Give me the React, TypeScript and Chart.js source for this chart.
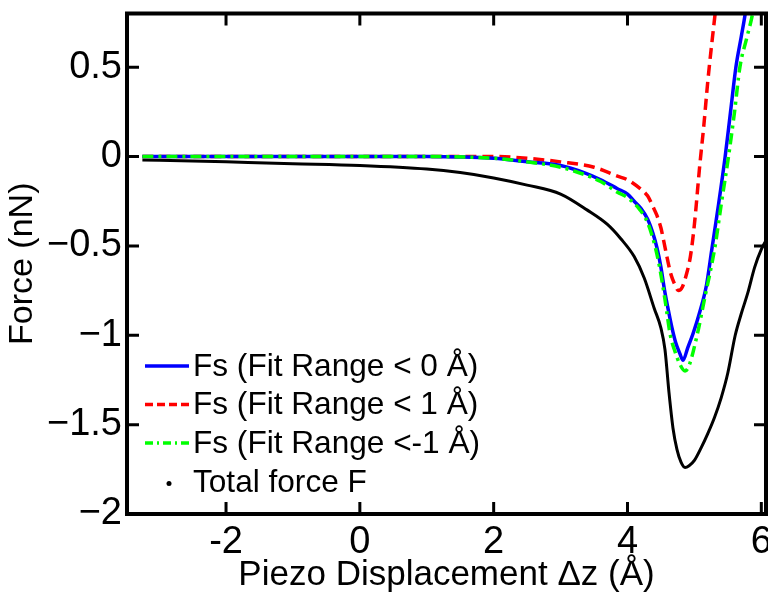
import React, { useEffect, useRef } from "react";
import { Chart, registerables } from "chart.js";
Chart.register(...registerables);

const xTicks = [-2, 0, 2, 4, 6];
const yTicks = [0.5, 0, -0.5, -1, -1.5, -2];

const blueX = [-3.25, -2, -1, 0, 1, 2, 2.5, 3.0, 3.35, 3.6, 3.85, 4.0, 4.1, 4.2, 4.3, 4.38, 4.44, 4.5, 4.55, 4.6, 4.66, 4.72, 4.78, 4.83, 4.9, 4.98, 5.08, 5.18, 5.26, 5.36, 5.46, 5.54, 5.62, 5.7, 5.76, 5.85];
const blueY = [0, 0, 0, 0, 0, -0.01, -0.03, -0.05, -0.09, -0.13, -0.18, -0.21, -0.25, -0.29, -0.35, -0.43, -0.51, -0.62, -0.74, -0.84, -0.95, -1.04, -1.1, -1.14, -1.07, -0.99, -0.87, -0.72, -0.52, -0.27, 0, 0.25, 0.5, 0.67, 0.8, 1.05];

const redX = [-3.25, -2, -1, 0, 1, 2, 2.5, 3.0, 3.5, 3.85, 4.0, 4.19, 4.3, 4.38, 4.44, 4.5, 4.54, 4.6, 4.65, 4.7, 4.76, 4.82, 4.88, 4.94, 5.0, 5.08, 5.14, 5.2, 5.31, 5.4];
const redY = [0, 0, 0, 0, 0, 0, -0.01, -0.03, -0.06, -0.11, -0.13, -0.18, -0.22, -0.28, -0.33, -0.4, -0.47, -0.58, -0.66, -0.71, -0.75, -0.73, -0.66, -0.56, -0.38, -0.05, 0.17, 0.42, 0.8, 1.1];

const greenX = [-3.25, -2, -1, 0, 1, 2, 2.5, 3.0, 3.35, 3.6, 3.85, 4.0, 4.19, 4.3, 4.41, 4.48, 4.56, 4.64, 4.7, 4.78, 4.86, 4.92, 5.04, 5.15, 5.31, 5.4, 5.51, 5.6, 5.68, 5.78, 5.87, 5.95];
const greenY = [0, 0, 0, 0, 0, -0.01, -0.03, -0.06, -0.1, -0.14, -0.2, -0.23, -0.3, -0.37, -0.5, -0.62, -0.8, -1.0, -1.08, -1.16, -1.2, -1.17, -1.0, -0.8, -0.5, -0.27, 0, 0.25, 0.5, 0.66, 0.8, 1.0];

const blackX = [-3.25, -2.5, -2, -1, 0, 1, 1.5, 2, 2.5, 3.0, 3.4, 3.7, 3.9, 4.1, 4.25, 4.4, 4.5, 4.56, 4.62, 4.68, 4.74, 4.8, 4.86, 4.92, 5.0, 5.1, 5.2, 5.3, 5.4, 5.5, 5.61, 5.7, 5.8, 5.9, 6.0, 6.07];
const blackY = [-0.02, -0.025, -0.03, -0.04, -0.05, -0.07, -0.09, -0.12, -0.16, -0.21, -0.3, -0.38, -0.46, -0.56, -0.68, -0.85, -0.96, -1.08, -1.32, -1.52, -1.64, -1.71, -1.74, -1.73, -1.7, -1.63, -1.55, -1.46, -1.35, -1.21, -1.0, -0.88, -0.76, -0.62, -0.52, -0.47];

const seriesLabels = ["Fs (Fit Range < 0 Å)", "Fs (Fit Range < 1 Å)", "Fs (Fit Range <-1 Å)", "Total force F"];

const FONT = "'Liberation Sans', Arial, sans-serif";

const pts = (xs: number[], ys: number[]) => xs.map((x, i) => ({ x, y: ys[i] }));

const framePlugin = {
  id: "frameAndLegend",
  afterDatasetsDraw(chart: any) {
    const { ctx, chartArea: a, scales } = chart;
    const sx = scales.x;
    const sy = scales.y;
    ctx.save();
    ctx.strokeStyle = "#000";
    ctx.lineWidth = 3;
    ctx.beginPath();
    const tl = 12;
    for (const v of xTicks) {
      const px = sx.getPixelForValue(v);
      ctx.moveTo(px, a.bottom);
      ctx.lineTo(px, a.bottom - tl);
      ctx.moveTo(px, a.top);
      ctx.lineTo(px, a.top + tl);
    }
    for (const v of yTicks) {
      const py = sy.getPixelForValue(v);
      ctx.moveTo(a.left, py);
      ctx.lineTo(a.left + tl, py);
      ctx.moveTo(a.right, py);
      ctx.lineTo(a.right - tl, py);
    }
    ctx.stroke();
    ctx.lineWidth = 4;
    ctx.strokeRect(a.left, a.top, a.right - a.left, a.bottom - a.top);

    // legend
    const rows = [366, 404.5, 443, 482.5];
    const ds = chart.data.datasets;
    ctx.font = `31.6px ${FONT}`;
    ctx.textBaseline = "middle";
    ctx.textAlign = "left";
    [0, 1, 2, 3].forEach((di, r) => {
      const d = ds[di];
      const y = rows[r];
      if (di < 3) {
        ctx.strokeStyle = d.borderColor;
        ctx.lineWidth = 3.5;
        ctx.setLineDash(di === 1 ? [8, 4] : di === 2 ? [8, 4, 2, 4] : []);
        ctx.beginPath();
        ctx.moveTo(145, y);
        ctx.lineTo(189, y);
        ctx.stroke();
        ctx.setLineDash([]);
      } else {
        ctx.fillStyle = "#000";
        ctx.beginPath();
        ctx.arc(169, y + 1, 2.5, 0, Math.PI * 2);
        ctx.fill();
      }
      ctx.fillStyle = "#000";
      ctx.fillText(d.label, 193, y + 1);
    });
    ctx.restore();
  },
};

export default function App() {
  const ref = useRef<HTMLCanvasElement | null>(null);
  useEffect(() => {
    if (!ref.current) return;
    const chart = new Chart(ref.current, {
      type: "line",
      data: {
        datasets: [
          {
            label: seriesLabels[0],
            data: pts(blueX, blueY),
            borderColor: "#0000ff",
            borderWidth: 3.5,
            pointRadius: 0,
            cubicInterpolationMode: "monotone",
            order: 2,
          },
          {
            label: seriesLabels[1],
            data: pts(redX, redY),
            borderColor: "#ff0000",
            borderWidth: 3.5,
            borderDash: [11, 6],
            pointRadius: 0,
            cubicInterpolationMode: "monotone",
            order: 3,
          },
          {
            label: seriesLabels[2],
            data: pts(greenX, greenY),
            borderColor: "#00ff00",
            borderWidth: 3.5,
            borderDash: [11, 5, 3, 5],
            pointRadius: 0,
            cubicInterpolationMode: "monotone",
            order: 1,
          },
          {
            label: seriesLabels[3],
            data: pts(blackX, blackY),
            borderColor: "#000000",
            borderWidth: 3,
            pointRadius: 0,
            cubicInterpolationMode: "monotone",
            order: 4,
          },
        ],
      },
      options: {
        animation: false,
        responsive: false,
        parsing: false as any,
        layout: { padding: { left: 0, top: 13.5, right: 2, bottom: 0 } },
        plugins: { legend: { display: false }, tooltip: { enabled: false } },
        scales: {
          x: {
            type: "linear",
            min: -3.48,
            max: 6.07,
            afterBuildTicks: (s: any) => {
              s.ticks = xTicks.map((v) => ({ value: v }));
            },
            afterFit: (s: any) => {
              s.height = 80;
              s.paddingLeft = 0;
              s.paddingRight = 0;
            },
            ticks: {
              font: { family: FONT, size: 38 },
              color: "#000",
              padding: 6,
              maxRotation: 0,
              autoSkip: false,
              callback: (v: any) => String(v),
            },
            grid: { display: false, drawTicks: false },
            border: { display: false },
            title: {
              display: true,
              text: "Piezo Displacement Δz (Å)",
              font: { family: FONT, size: 35, lineHeight: 1 },
              color: "#000",
              padding: { top: 0, bottom: 1 },
            },
          },
          y: {
            type: "linear",
            min: -2,
            max: 0.8,
            afterBuildTicks: (s: any) => {
              s.ticks = yTicks.map((v) => ({ value: v }));
            },
            afterFit: (s: any) => {
              s.width = 127;
              s.paddingTop = 0;
              s.paddingBottom = 0;
            },
            ticks: {
              font: { family: FONT, size: 38 },
              color: "#000",
              padding: 5,
              autoSkip: false,
              callback: (v: any) => String(v).replace("-", "\u2212"),
            },
            grid: { display: false, drawTicks: false },
            border: { display: false },
            title: {
              display: true,
              text: "Force (nN)",
              font: { family: FONT, size: 34, lineHeight: 1 },
              color: "#000",
              padding: { top: 5.5, bottom: 0 },
            },
          },
        },
      },
      plugins: [framePlugin],
    } as any);
    return () => chart.destroy();
  }, []);
  return (
    <div style={{ position: "absolute", left: 0, top: 0, width: 768, height: 594, background: "#fff" }}>
      <canvas ref={ref} width={768} height={594} style={{ display: "block" }} />
    </div>
  );
}
